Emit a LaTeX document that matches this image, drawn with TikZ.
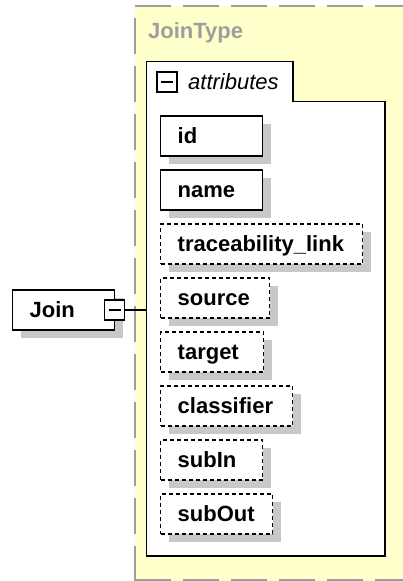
\documentclass[tikz,border=0pt]{standalone}
\usepackage{fontspec}
\setmainfont{Liberation Sans}
\usepackage{tikz}
\usetikzlibrary{positioning}
\definecolor{typefill}{RGB}{255,255,204}
\definecolor{typeline}{RGB}{158,158,158}
\definecolor{shade}{RGB}{200,200,200}
\begin{document}
\begin{tikzpicture}[
  x=1pt, y=-1pt,
  font=\fontsize{22}{26}\selectfont\bfseries,
  elem/.style={draw, line width=1.5pt, fill=white, anchor=north west, outer sep=0pt,
    minimum height=40pt, inner xsep=17pt, inner ysep=0pt, align=left,
    text height=16pt, text depth=2pt,
    preaction={fill=shade, transform canvas={xshift=8pt, yshift=-8pt}}},
  opt/.style={elem, dash pattern=on 4pt off 3pt},
  toggle/.style={draw, line width=1.5pt, fill=white, minimum size=20pt, inner sep=0pt,
    path picture={\draw[line width=1.5pt]
      ([xshift=4pt]path picture bounding box.west) -- ([xshift=-4pt]path picture bounding box.east);}},
  border/.style={typeline, line width=1.7pt, dash pattern=on 36pt off 12pt}
]
\useasboundingbox (0,0) rectangle (403,581);
% complex type
\fill[typefill] (135,5.7) rectangle (403,581);
\draw[border] (135,5.7) -- (403,5.7);
\draw[border] (135,18) -- (135,581);
\draw[border] (135,580) -- (403,580);
\node[anchor=west, inner sep=0pt, text=typeline] (jointype) at (148,33) {JoinType};
% attribute group
\filldraw[fill=white, line width=1.5pt] (146.7,61.7) -- (293,61.7) -- (293,101.7)
  -- (385,101.7) -- (385,556) -- (146.7,556) -- cycle;
\node[toggle] (attrtoggle) at (167,82) {};
\node[anchor=west, inner sep=0pt, font=\fontsize{22}{26}\selectfont\mdseries\itshape] (attrlabel) at (188,82) {attributes};
\node[elem, text width=68pt] (id) at (160.7,116) {id};
\node[elem, text width=68pt, below right=14pt and 0pt of id.south west] (name) {name};
\node[opt, text width=168pt, below right=14pt and 0pt of name.south west] (trace) {traceability\_link};
\node[opt, text width=75pt, below right=14pt and 0pt of trace.south west] (source) {source};
\node[opt, text width=69pt, below right=14pt and 0pt of source.south west] (target) {target};
\node[opt, text width=98pt, below right=14pt and 0pt of target.south west] (classifier) {classifier};
\node[opt, text width=68pt, below right=14pt and 0pt of classifier.south west] (subin) {subIn};
\node[opt, text width=78pt, below right=14pt and 0pt of subin.south west] (subout) {subOut};
% element
\node[elem, text width=68pt] (join) at (12.7,290) {Join};
\node[toggle] (jointoggle) at (join.east) {};
\coordinate (attrin) at (146.7,310);
\draw[line width=1.5pt] (jointoggle.east) -- (attrin);
\end{tikzpicture}
\end{document}
